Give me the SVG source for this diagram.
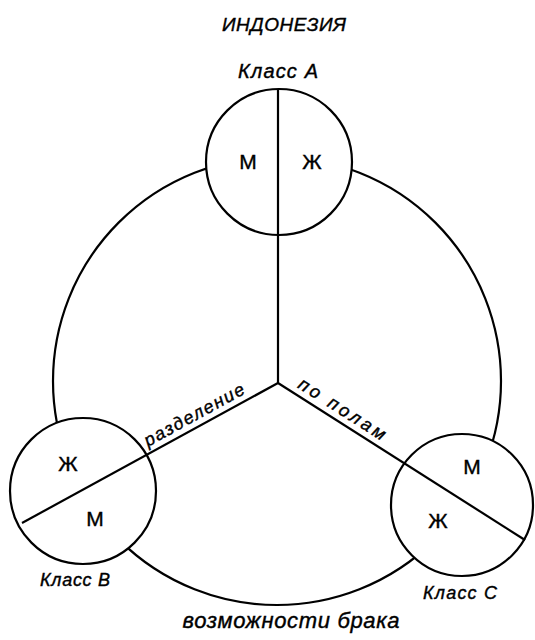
<svg xmlns="http://www.w3.org/2000/svg" width="535" height="640" viewBox="0 0 535 640">
<style>
.ln{stroke:#000;stroke-width:2.2;fill:none}
.cl{stroke:#000;stroke-width:2.2;fill:#fff}
.t{font-family:"Liberation Sans",Arial,sans-serif;fill:#000;stroke:#000;stroke-width:0.4}
.it{font-style:italic}
.mid{text-anchor:middle}
</style>
<rect width="535" height="640" fill="#fff"/>
<g id="marriage-ring"><circle class="ln" cx="277" cy="381" r="224"/></g>
<g id="classA"><circle class="cl" cx="279" cy="162" r="73"/>
<text class="t mid" x="248" y="169" font-size="21">М</text>
<text class="t mid" x="312" y="169" font-size="21">Ж</text>
<text class="t it mid" x="278" y="78" font-size="20" textLength="80" lengthAdjust="spacing">Класс А</text></g>
<g id="classB"><circle class="cl" cx="83" cy="491" r="73"/>
<text class="t mid" x="68" y="471" font-size="21">Ж</text>
<text class="t mid" x="95" y="526" font-size="21">М</text>
<text class="t it mid" x="75" y="586" font-size="18" textLength="70" lengthAdjust="spacing">Класс В</text></g>
<g id="classC"><circle class="cl" cx="462" cy="505" r="71"/>
<text class="t mid" x="472" y="474" font-size="21">М</text>
<text class="t mid" x="438" y="528" font-size="21">Ж</text>
<text class="t it mid" x="460" y="599" font-size="18" textLength="74" lengthAdjust="spacing">Класс С</text></g>
<g id="connectors">
<line class="ln" x1="278" y1="89" x2="278" y2="383"/>
<line class="ln" x1="278" y1="383" x2="22" y2="523"/>
<line class="ln" x1="278" y1="383" x2="525" y2="540"/>
</g>
<g id="labels">
<text class="t it mid" x="284" y="31" font-size="19" textLength="124" lengthAdjust="spacing">ИНДОНЕЗИЯ</text>
<text class="t it mid" x="197" y="420" font-size="18" textLength="112" lengthAdjust="spacing" transform="rotate(-28.7 197 420)">разделение</text>
<text class="t it mid" x="339" y="414" font-size="18" textLength="100" lengthAdjust="spacing" transform="rotate(32.4 339 414)">по полам</text>
<text class="t it mid" x="291" y="628" font-size="22" textLength="217" lengthAdjust="spacing">возможности брака</text>
</g>
</svg>
